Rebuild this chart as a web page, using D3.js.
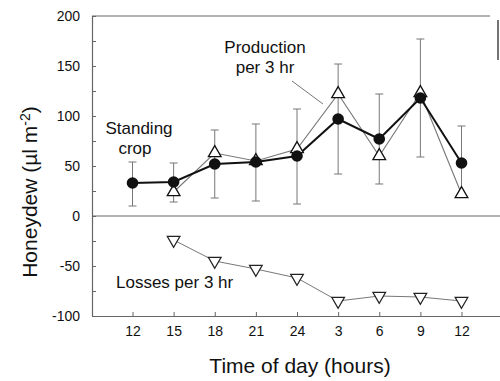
<!DOCTYPE html>
<html>
<head>
<meta charset="utf-8">
<script src="https://cdn.jsdelivr.net/npm/d3@7"></script>
<style>
  body { margin: 0; background: #fff; }
  svg { display: block; font-family: "Liberation Sans", Arial, Helvetica, sans-serif; }
</style>
</head>
<body>
<svg id="chart" width="500" height="381"></svg>
<script>
// ---- data ----
const timeLabels = ["12", "15", "18", "21", "24", "3", "6", "9", "12"];
const standingCrop = [33, 34, 52, 54, 60, 97, 77, 118, 53];
const errLow  = [10, 14, 18, 15, 12, 42, 32, 59, 20];
const errHigh = [54, 53, 86, 92, 107, 152, 122, 177, 90];
const production = [null, 24, 63, 55, 67, 122, 60, 123, 22];
const losses = [null, -24, -45, -53, -62, -85, -80, -81, -85];
const yTicks = [-100, -75, -50, -25, 0, 25, 50, 75, 100, 125, 150, 175, 200];

// ---- layout ----
const svg = d3.select("#chart");
const mLeft = 92, mTop = 16, mBottom = 316;
const x = d3.scaleLinear().domain([0, 8]).range([132.5, 461.5]);
const y = d3.scaleLinear().domain([-100, 200]).range([mBottom, mTop]);
const axisColor = "#666";

// frame lines
svg.append("line").attr("x1", mLeft).attr("x2", 490).attr("y1", y(200)).attr("y2", y(200))
  .attr("stroke", axisColor).attr("stroke-width", 1.2);
svg.append("line").attr("x1", mLeft).attr("x2", 500).attr("y1", y(0)).attr("y2", y(0))
  .attr("stroke", axisColor).attr("stroke-width", 1.2);
svg.append("line").attr("x1", 498).attr("x2", 498).attr("y1", 20).attr("y2", 60)
  .attr("stroke", "#444").attr("stroke-width", 1.5);

// y axis
const yAxis = d3.axisLeft(y).tickValues(yTicks)
  .tickFormat(d => d % 50 === 0 ? String(d) : "")
  .tickSize(-4).tickPadding(12);
const gy = svg.append("g").attr("transform", `translate(${mLeft},0)`).call(yAxis);
gy.select(".domain").attr("stroke", axisColor).attr("stroke-width", 1.2).attr("d", `M0.5,${mTop}V${mBottom}`);
gy.selectAll(".tick line").attr("stroke", axisColor);
gy.selectAll(".tick text").attr("font-size", 14).attr("fill", "#111")
  .attr("font-family", "Liberation Sans, Arial, sans-serif");

// x axis
const xAxis = d3.axisBottom(x).tickValues(d3.range(9))
  .tickFormat(i => timeLabels[i]).tickSize(-4).tickPadding(10);
const gx = svg.append("g").attr("transform", `translate(0,${mBottom})`).call(xAxis);
gx.select(".domain").attr("stroke", axisColor).attr("stroke-width", 1.2).attr("d", `M${mLeft},0.5H500`);
gx.selectAll(".tick line").attr("stroke", axisColor);
gx.selectAll(".tick text").attr("font-size", 14).attr("fill", "#111")
  .attr("font-family", "Liberation Sans, Arial, sans-serif");

// error bars
const eb = svg.append("g").attr("stroke", "#777").attr("stroke-width", 1);
standingCrop.forEach((v, i) => {
  eb.append("line").attr("x1", x(i)).attr("x2", x(i)).attr("y1", y(errLow[i])).attr("y2", y(errHigh[i]));
  eb.append("line").attr("x1", x(i) - 4).attr("x2", x(i) + 4).attr("y1", y(errLow[i])).attr("y2", y(errLow[i]));
  eb.append("line").attr("x1", x(i) - 4).attr("x2", x(i) + 4).attr("y1", y(errHigh[i])).attr("y2", y(errHigh[i]));
});

// lines
const line = d3.line().defined(d => d[1] !== null).x(d => x(d[0])).y(d => y(d[1]));
const prodPts = production.map((v, i) => [i, v]);
const lossPts = losses.map((v, i) => [i, v]);
const cropPts = standingCrop.map((v, i) => [i, v]);

svg.append("path").attr("d", line(prodPts)).attr("fill", "none").attr("stroke", "#777").attr("stroke-width", 1.1);
svg.append("path").attr("d", line(lossPts)).attr("fill", "none").attr("stroke", "#777").attr("stroke-width", 1);
svg.append("path").attr("d", line(cropPts)).attr("fill", "none").attr("stroke", "#111").attr("stroke-width", 2);

// markers
const triUp = d3.symbol().type(d3.symbolTriangle).size(70);
svg.append("g").selectAll("path").data(prodPts.filter(d => d[1] !== null)).join("path")
  .attr("d", triUp).attr("transform", d => `translate(${x(d[0])},${y(d[1])})`)
  .attr("fill", "#fff").attr("stroke", "#111").attr("stroke-width", 1.3);

svg.append("g").selectAll("circle").data(cropPts).join("circle")
  .attr("cx", d => x(d[0])).attr("cy", d => y(d[1])).attr("r", 5.8).attr("fill", "#111");

svg.append("g").selectAll("path").data(lossPts.filter(d => d[1] !== null)).join("path")
  .attr("d", triUp).attr("transform", d => `translate(${x(d[0])},${y(d[1])}) rotate(180)`)
  .attr("fill", "#fff").attr("stroke", "#222").attr("stroke-width", 1.2);

// annotations
const ann = svg.append("g").attr("fill", "#111").attr("font-size", 17);
ann.append("text").attr("x", 265).attr("y", 53).attr("text-anchor", "middle").text("Production");
ann.append("text").attr("x", 265).attr("y", 73).attr("text-anchor", "middle").text("per 3 hr");
svg.append("line").attr("x1", 292).attr("y1", 81).attr("x2", 323).attr("y2", 104)
  .attr("stroke", "#777").attr("stroke-width", 1);
ann.append("text").attr("x", 139).attr("y", 134).attr("text-anchor", "middle").text("Standing");
ann.append("text").attr("x", 135).attr("y", 154).attr("text-anchor", "middle").text("crop");
ann.append("text").attr("x", 116).attr("y", 288).text("Losses per 3 hr");

// axis titles
svg.append("text").attr("x", 300).attr("y", 373).attr("text-anchor", "middle")
  .attr("font-size", 21).attr("fill", "#111").text("Time of day (hours)");
const yt = svg.append("text").attr("transform", "translate(37,192) rotate(-90)")
  .attr("text-anchor", "middle").attr("font-size", 21).attr("fill", "#111");
yt.append("tspan").text("Honeydew (µl m");
yt.append("tspan").attr("dy", -7).attr("font-size", 14).text("-2");
yt.append("tspan").attr("dy", 7).text(")");
</script>
</body>
</html>
